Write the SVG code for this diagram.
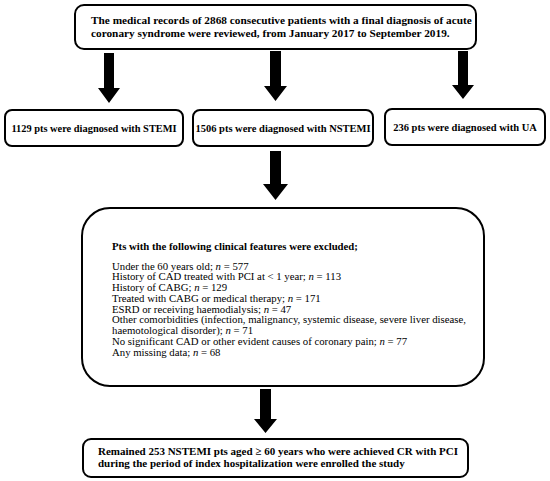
<svg xmlns="http://www.w3.org/2000/svg" width="550" height="481" viewBox="0 0 550 481">
<style>
.box{fill:#fff;stroke:#000;stroke-width:2}
.b{font-family:"Liberation Serif",serif;font-weight:bold;fill:#000}
.r{font-family:"Liberation Serif",serif;fill:#000;font-size:10.75px}
.arr{fill:#000}
</style>
<rect width="550" height="481" fill="#fff"/>
<g id="top">
<rect class="box" x="75" y="5" width="401" height="44" rx="9"/>
<text class="b" font-size="11.3" x="91" y="23.5">The medical records of 2868 consecutive patients with a final diagnosis of acute</text>
<text class="b" font-size="11.3" x="91" y="37">coronary syndrome were reviewed, from January 2017 to September 2019.</text>
</g>
<g id="stemi">
<rect class="box" x="5" y="110" width="178" height="36" rx="7"/>
<text class="b" font-size="10.4" x="94" y="132" text-anchor="middle">1129 pts were diagnosed with STEMI</text>
</g>
<g id="nstemi">
<rect class="box" x="193" y="110" width="180" height="36" rx="7"/>
<text class="b" font-size="10.5" x="283" y="132" text-anchor="middle">1506 pts were diagnosed with NSTEMI</text>
</g>
<g id="ua">
<rect class="box" x="385" y="109" width="160" height="36" rx="7"/>
<text class="b" font-size="10.5" x="465" y="131" text-anchor="middle">236 pts were diagnosed with UA</text>
</g>
<g id="excluded">
<rect class="box" x="82" y="208" width="402" height="178" rx="28"/>
<text class="b" font-size="10.75" x="112" y="249.5">Pts with the following clinical features were excluded;</text>
<text class="r" x="112" y="269.5">Under the 60 years old; <tspan font-style="italic">n</tspan> = 577</text>
<text class="r" x="112" y="280.25">History of CAD treated with PCI at &lt; 1 year; <tspan font-style="italic">n</tspan> = 113</text>
<text class="r" x="112" y="291">History of CABG; <tspan font-style="italic">n</tspan> = 129</text>
<text class="r" x="112" y="301.75">Treated with CABG or medical therapy; <tspan font-style="italic">n</tspan> = 171</text>
<text class="r" x="112" y="312.5">ESRD or receiving haemodialysis; <tspan font-style="italic">n</tspan> = 47</text>
<text class="r" x="112" y="323.25">Other comorbidities (infection, malignancy, systemic disease, severe liver disease,</text>
<text class="r" x="112" y="334">haemotological disorder); <tspan font-style="italic">n</tspan> = 71</text>
<text class="r" x="112" y="344.75">No significant CAD or other evident causes of coronary pain; <tspan font-style="italic">n</tspan> = 77</text>
<text class="r" x="112" y="355.5">Any missing data; <tspan font-style="italic">n</tspan> = 68</text>
</g>
<g id="final">
<rect class="box" x="83" y="439" width="385" height="38" rx="8"/>
<text class="b" font-size="11" x="98" y="455">Remained 253 NSTEMI pts aged ≥ 60 years who were achieved CR with PCI</text>
<text class="b" font-size="11" x="98" y="467">during the period of index hospitalization were enrolled the study</text>
</g>
<g id="connectors">
<polygon class="arr" points="104,53 114,53 114,88 120,88 109,103 98,88 104,88"/>
<polygon class="arr" points="270,51 281,51 281,86 287,86 275.5,101 264,86 270,86"/>
<polygon class="arr" points="458,51 468,51 468,85 474,85 463,99 452,85 458,85"/>
<polygon class="arr" points="270,151 281,151 281,184 288,184 275.5,200 263,184 270,184"/>
<polygon class="arr" points="260,389 271,389 271,419 277,419 265.5,433 254,419 260,419"/>
</g>
</svg>
